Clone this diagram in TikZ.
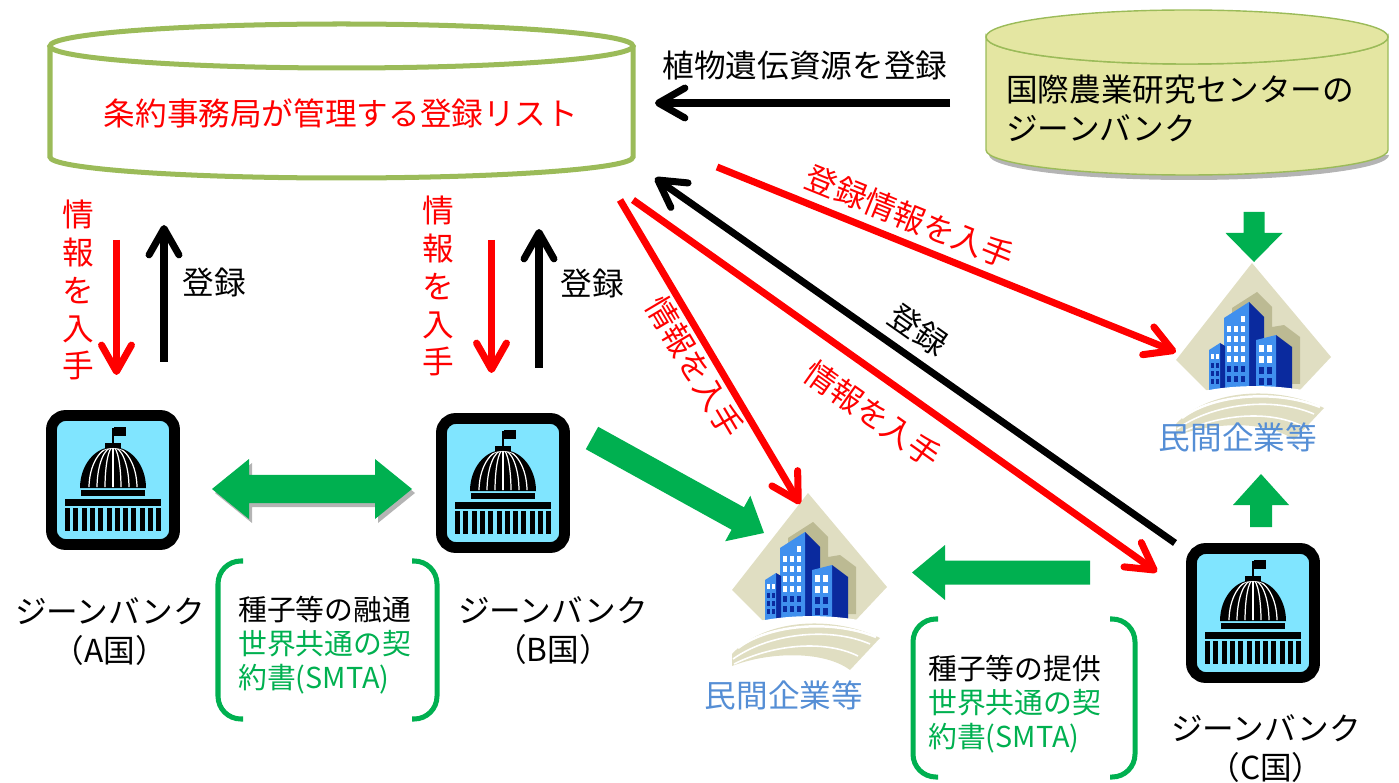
\documentclass[tikz,border=0pt]{standalone}
\usepackage{fontspec}
\newfontfamily\jp{Noto Sans CJK JP}
\usetikzlibrary{arrows.meta,calc}

\definecolor{listgreen}{HTML}{9BBB59}
\definecolor{cylfill}{HTML}{E4E6A2}
\definecolor{flowgreen}{HTML}{00B050}
\definecolor{infored}{HTML}{FF0000}
\definecolor{firmblue}{HTML}{558ED5}
\definecolor{bankblue}{HTML}{80E5FF}
\definecolor{plaza}{HTML}{E0DEC2}
\definecolor{plazadark}{HTML}{BCBA93}
\definecolor{towerlight}{HTML}{4090EE}
\definecolor{towerdark}{HTML}{0A2A9E}
\definecolor{shadowgrey}{HTML}{B4B4B4}

% one-headed block arrow: [style]{start}{end}{shaft half width}{head half width}{head length} (px)
\newcommand\blockarrow[6][]{%
  \coordinate (ba-h) at ($(#3)!#6*0.02cm!(#2)$);
  \fill[#1] ($(#2)!#4*0.02cm!90:(#3)$) -- ($(ba-h)!#4*0.02cm!-90:(#2)$)
    -- ($(ba-h)!#5*0.02cm!-90:(#2)$) -- (#3)
    -- ($(ba-h)!#5*0.02cm!90:(#2)$) -- ($(ba-h)!#4*0.02cm!90:(#2)$)
    -- ($(#2)!#4*0.02cm!-90:(#3)$) -- cycle;}
% two-headed block arrow, same arguments
\newcommand\twowayarrow[6][]{%
  \coordinate (tw-a) at ($(#2)!#6*0.02cm!(#3)$);
  \coordinate (tw-b) at ($(#3)!#6*0.02cm!(#2)$);
  \fill[#1] (#2) -- ($(tw-a)!#5*0.02cm!90:(#3)$) -- ($(tw-a)!#4*0.02cm!90:(#3)$)
    -- ($(tw-b)!#4*0.02cm!-90:(#2)$) -- ($(tw-b)!#5*0.02cm!-90:(#2)$) -- (#3)
    -- ($(tw-b)!#5*0.02cm!90:(#2)$) -- ($(tw-b)!#4*0.02cm!90:(#2)$)
    -- ($(tw-a)!#4*0.02cm!-90:(#3)$) -- ($(tw-a)!#5*0.02cm!-90:(#3)$) -- cycle;}

\tikzset{
  every node/.style={inner sep=0pt, font=\jp\fontsize{18pt}{22.2pt}\selectfont},
  vtext/.style={align=center, font=\jp\fontsize{18pt}{21.6pt}\selectfont},
  brtext/.style={anchor=west, align=left, font=\jp\fontsize{16.4pt}{19.3pt}\selectfont},
  firmlabel/.style={text=firmblue},
  listcyl/.style={draw=listgreen, line width=2.85pt},
  icrccyl/.style={draw=listgreen, line width=0.8pt, fill=cylfill},
  bank/.style={draw=black, fill=bankblue, line width=6.2pt, rounded corners=8pt,
    minimum width=70pt, minimum height=73.4pt},
  firm/.style={minimum width=88pt, minimum height=100pt},
  infoarrow/.style={draw=infored, line width=4pt, -{Straight Barb[length=15pt,width=17pt,round]}},
  regarrow/.style={draw=black, line width=4pt, -{Straight Barb[length=15pt,width=17pt,round]}},
  bracket/.style={draw=flowgreen, line width=2.85pt, rounded corners=13pt},
  pics/capitol/.style={code={
    \fill[black] (-0.8,-52) rectangle (0.8,-34);
    \fill[black] (0.8,-53) rectangle (13,-44);
    \fill[black] (-8,-37) rectangle (8,-31);
    \fill[black] (-33,8) arc[start angle=180,end angle=360,x radius=33,y radius=41] -- cycle;
    \begin{scope}
      \clip (-31,7) arc[start angle=180,end angle=360,x radius=31,y radius=39] -- cycle;
      \foreach \r in {8,16,24}{\draw[white,line width=0.7pt] (0,8) ellipse[x radius=\r,y radius=41];}
      \draw[white,line width=0.7pt] (0,-33) -- (0,8);
    \end{scope}
    \fill[black] (-32,10) rectangle (32,16);
    \fill[black] (-48,19) rectangle (48,26);
    \foreach \i in {0,...,11}{\fill[black] ({-48+8.3*\i},28) rectangle ({-43+8.3*\i},51);}
  }},
  pics/company/.style={code={
    \fill[plaza] (0,-97) -- (79,-3) -- (47,31) -- (-46,30) -- (-76,0) -- cycle;
    \fill[plazadark] (-20,-52) -- (5,-68) -- (20,-53) -- (20,-33) -- (32,-35) -- (48,-23)
      -- (48,24) -- (-20,24) -- cycle;
    % tall tower
    \fill[towerdark] (-3,-58) -- (12,-43) -- (12,30) -- (-3,30) -- cycle;
    \fill[towerlight] (-28,-42) -- (-3,-58) -- (-3,30) -- (-28,30) -- cycle;
    \foreach \c in {-25,-18,-11}{
      \foreach \r in {-34,-24,-14,-4}{\fill[white] (\c,\r) rectangle ++(4,6);}
      \foreach \r in {6,16}{\fill[towerdark] (\c,\r) rectangle ++(4,6);}}
    \fill[white] (-11,-44) rectangle ++(4,6);
    % small tower on the left
    \fill[towerdark] (-32,-17) -- (-27,-14) -- (-27,30) -- (-32,30) -- cycle;
    \fill[towerlight] (-43,-10) -- (-32,-17) -- (-32,30) -- (-43,30) -- cycle;
    \foreach \c in {-41,-36}{
      \fill[white] (\c,-6) rectangle ++(3,5);
      \foreach \r in {3,11,19}{\fill[towerdark] (\c,\r) rectangle ++(3,5);}}
    % tower on the right
    \fill[towerdark] (24,-25) -- (40,-13) -- (40,32) -- (24,32) -- cycle;
    \fill[towerlight] (4,-20) -- (24,-25) -- (24,32) -- (4,32) -- cycle;
    \foreach \c in {7,15}{
      \foreach \r in {-15,-4}{\fill[white] (\c,\r) rectangle ++(5,7);}
      \foreach \r in {7,18}{\fill[towerdark] (\c,\r) rectangle ++(5,7);}}
    % ground and sweeping path
    \fill[white] (-60,40) -- (-52,32) .. controls (-20,24) and (30,24) .. (64,33) -- (66,40) -- cycle;
    \fill[plaza] (-76,64) .. controls (-45,30) and (22,24) .. (72,48) -- (42,80)
      .. controls (15,60) and (-40,62) .. (-76,76) -- cycle;
    \draw[white,line width=1.4pt] (-70,58) .. controls (-42,36) and (20,28) .. (68,47);
    \draw[white,line width=0.9pt] (-75,69) .. controls (-40,44) and (20,36) .. (62,54);
    \draw[white,line width=0.9pt] (-74,74) .. controls (-36,55) and (15,49) .. (50,66);
  }},
}

\begin{document}
\begin{tikzpicture}[x=0.02cm, y=-0.02cm]
\useasboundingbox (0,0) rectangle (1399,783);

% registry kept by the treaty secretariat
\draw[listcyl] (50,46) -- (50,157) arc[start angle=180,end angle=0,x radius=291.5,y radius=21] -- (633,46);
\draw[listcyl] (341.5,46) ellipse[x radius=291.5,y radius=22];
\node[text=infored] (list) at (341,113) {条約事務局が管理する登録リスト};

% gene bank of the international research centre
\fill[shadowgrey] (989,155) arc[start angle=180,end angle=0,x radius=200,y radius=25] -- cycle;
\filldraw[icrccyl] (986,37) -- (986,150) arc[start angle=180,end angle=0,x radius=201,y radius=25]
  -- (1388,37) arc[start angle=0,end angle=180,x radius=201,y radius=27] -- cycle;
\filldraw[icrccyl] (1187,37) ellipse[x radius=201,y radius=27];
\node[anchor=west, align=left] (icrc) at (1006,108) {国際農業研究センターの\\ジーンバンク};

\coordinate (topS) at (950,103);
\coordinate (topE) at (655,103);
\draw[regarrow] (topS) -- (topE);
\node (topLab) at (805,66) {植物遺伝資源を登録};

% national gene banks
\node[bank] (bankA) at (113,480) {};
\pic at (bankA) {capitol};
\node[bank] (bankB) at (503,483) {};
\pic at (bankB) {capitol};
\node[bank] (bankC) at (1253,613) {};
\pic at (bankC) {capitol};
\node[align=center] (labA) at (110,632) {ジーンバンク\\（A国）};
\node[align=center] (labB) at (553,631) {ジーンバンク\\（B国）};
\node[align=center] (labC) at (1266,749) {ジーンバンク\\（C国）};

% private companies
\node[firm] (firmM) at (808,590) {};
\pic at (firmM) {company};
\node[firmlabel] (firmMlab) at (784,695) {民間企業等};
\node[firm] (firmR) at (1252,360) {};
\pic at (firmR) {company};
\node[firmlabel] (firmRlab) at (1238,437) {民間企業等};

% vertical exchanges with the registry
\coordinate (aInfoS) at (116.5,240); \coordinate (aInfoE) at (116.5,375);
\coordinate (aRegS) at (164,362);    \coordinate (aRegE) at (164,225);
\coordinate (bInfoS) at (491.5,240); \coordinate (bInfoE) at (491.5,373);
\coordinate (bRegS) at (539,368);    \coordinate (bRegE) at (539,229);
\draw[infoarrow] (aInfoS) -- (aInfoE);
\draw[regarrow] (aRegS) -- (aRegE);
\draw[infoarrow] (bInfoS) -- (bInfoE);
\draw[regarrow] (bRegS) -- (bRegE);
\node[vtext, text=infored] (aInfoLab) at (78,290) {情\\報\\を\\入\\手};
\node[vtext, text=infored] (bInfoLab) at (438,286) {情\\報\\を\\入\\手};
\node (aRegLab) at (214,282) {登録};
\node (bRegLab) at (592,283) {登録};

% diagonal exchanges
\coordinate (fRS) at (717,167);  \coordinate (fRE) at (1176,352);
\coordinate (fMS) at (620,200);  \coordinate (fME) at (800,504);
\coordinate (fCS) at (633,200);  \coordinate (fCE) at (1157,572);
\coordinate (rCS) at (1175,543); \coordinate (rCE) at (655,178);
\draw[infoarrow] (fRS) -- (fRE);
\draw[infoarrow] (fMS) -- (fME);
\draw[infoarrow] (fCS) -- (fCE);
\draw[regarrow] (rCS) -- (rCE);
\node[text=infored, rotate=-22] (fRLab) at (910,217) {登録情報を入手};
\node[text=infored, rotate=-59.3] (fMLab) at (695,367) {情報を入手};
\node[text=infored, rotate=-35.3] (fCLab) at (873,414) {情報を入手};
\node[rotate=-35.1] (rCLab) at (918,330) {登録};

% flows of material
\coordinate (gABs) at (212,489); \coordinate (gABe) at (412,489);
\begin{scope}[transform canvas={shift={(3,4)}}]
  \twowayarrow[shadowgrey]{gABs}{gABe}{14}{30}{37}
\end{scope}
\twowayarrow[flowgreen]{gABs}{gABe}{14}{30}{37}
\coordinate (gBMs) at (592,438); \coordinate (gBMe) at (764,533);
\blockarrow[flowgreen]{gBMs}{gBMe}{12.8}{26}{30}
\coordinate (gCMs) at (1090,572.5); \coordinate (gCMe) at (912,572.5);
\blockarrow[flowgreen]{gCMs}{gCMe}{12}{27.5}{33}
\coordinate (gIRs) at (1254,212); \coordinate (gIRe) at (1254,262);
\blockarrow[flowgreen]{gIRs}{gIRe}{10.5}{28.5}{29}
\coordinate (gCRs) at (1261,527); \coordinate (gCRe) at (1261,474);
\blockarrow[flowgreen]{gCRs}{gCRe}{11}{28}{31}

% terms of transfer
\draw[bracket] (243,561) -- (218,561) -- (218,719) -- (243,719);
\draw[bracket] (412,561) -- (437,561) -- (437,719) -- (412,719);
\node[brtext] (termsAB) at (238,645) {種子等の融通\\\textcolor{flowgreen}{世界共通の契}\\\textcolor{flowgreen}{約書(SMTA)}};
\draw[bracket] (938,619) -- (913,619) -- (913,777) -- (938,777);
\draw[bracket] (1110,619) -- (1135,619) -- (1135,777) -- (1110,777);
\node[brtext] (termsC) at (928,704) {種子等の提供\\\textcolor{flowgreen}{世界共通の契}\\\textcolor{flowgreen}{約書(SMTA)}};
\end{tikzpicture}
\end{document}
